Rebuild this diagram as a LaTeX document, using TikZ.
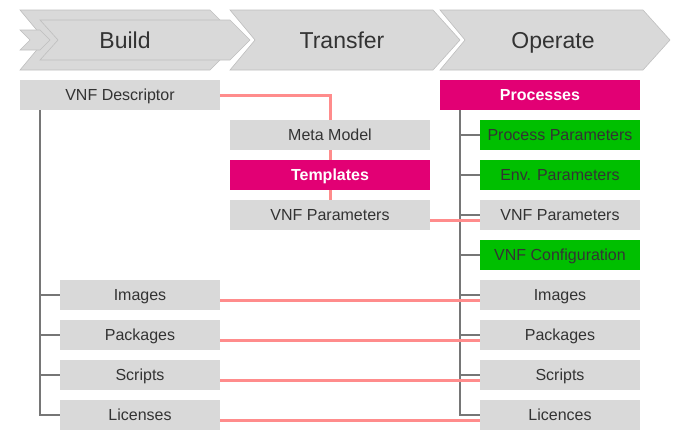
\documentclass[tikz,border=0pt]{standalone}
\usepackage{fontspec}
\setmainfont{Liberation Sans}
\usetikzlibrary{positioning}
\definecolor{boxgray}{HTML}{D9D9D9}
\definecolor{tmagenta}{HTML}{E20074}
\definecolor{okgreen}{HTML}{00BF00}
\definecolor{treegray}{HTML}{767676}
\definecolor{linkred}{HTML}{FF8C8C}
\definecolor{txt}{HTML}{333333}

\begin{document}
\begin{tikzpicture}[x=1pt, y=-1pt,
        every node/.style={font=\fontsize{16}{19}\selectfont, text=txt},
        item/.style={rectangle, fill=boxgray, minimum width=200pt, minimum height=30pt, inner sep=0pt, outer sep=0pt, text height=11.5pt, text depth=0pt},
        sub/.style={item, minimum width=160pt},
        mag/.style={fill=tmagenta, text=white, font=\fontsize{16}{19}\selectfont\bfseries},
        grn/.style={fill=okgreen},
        chev/.style={fill=boxgray, draw=black!25, line width=0.6pt},
        head/.style={font=\fontsize{23}{27}\selectfont, anchor=base},
        tree/.style={draw=treegray, line width=1.8pt},
        link/.style={draw=linkred, line width=3pt}
    ]
        \useasboundingbox (0,0) rectangle (680,440);

        % Phases
        \draw[chev] (20,10) -- (210,10) -- (240,40) -- (210,70) -- (20,70) -- (45,40) -- cycle;
        \draw[chev] (20,30) -- (40,30) -- (50,40) -- (40,50) -- (20,50) -- (30,40) -- cycle;
        \draw[chev] (40,20) -- (230,20) -- (250,40) -- (230,60) -- (40,60) -- (58,40) -- cycle;
        \draw[chev] (230,10) -- (433,10) -- (460,40) -- (433,70) -- (230,70) -- (255,40) -- cycle;
        \draw[chev] (440,10) -- (643,10) -- (670,40) -- (643,70) -- (440,70) -- (465,40) -- cycle;
        \node[head] (build) at (125,48) {Build};
        \node[head] (transfer) at (342,48) {Transfer};
        \node[head] (operate) at (553,48) {Operate};

        % Build
        \node[item] (desc) at (120,95) {VNF Descriptor};
        \node[sub] (bimg) at (140,295) {Images};
        \node[sub, below=10pt of bimg] (bpkg) {Packages};
        \node[sub, below=10pt of bpkg] (bscr) {Scripts};
        \node[sub, below=10pt of bscr] (blic) {Licenses};

        % Transfer
        \node[item] (meta) at (330,135) {Meta Model};
        \node[item, mag, below=10pt of meta] (tmpl) {Templates};
        \node[item, below=10pt of tmpl] (tvnf) {VNF Parameters};

        % Operate
        \node[item, mag] (proc) at (540,95) {Processes};
        \node[sub, grn] (ppar) at (560,135) {Process Parameters};
        \node[sub, grn, below=10pt of ppar] (epar) {Env. Parameters};
        \node[sub, below=10pt of epar] (ovnf) {VNF Parameters};
        \node[sub, grn, below=10pt of ovnf] (ocfg) {VNF Configuration};
        \node[sub, below=10pt of ocfg] (oimg) {Images};
        \node[sub, below=10pt of oimg] (opkg) {Packages};
        \node[sub, below=10pt of opkg] (oscr) {Scripts};
        \node[sub, below=10pt of oscr] (olic) {Licences};

        % Trees
        \foreach \n in {bimg, bpkg, bscr, blic}
            \draw[tree] ([xshift=20pt]desc.south west) |- (\n.west);
        \foreach \n in {ppar, epar, ovnf, ocfg, oimg, opkg, oscr, olic}
            \draw[tree] ([xshift=20pt]proc.south west) |- (\n.west);

        % Links
        \draw[link] (desc.east) -| (meta.north);
        \draw[link] (meta) -- (tmpl);
        \draw[link] (tmpl) -- (tvnf);
        \foreach \a/\b in {tvnf/ovnf, bimg/oimg, bpkg/opkg, bscr/oscr, blic/olic}
            \draw[link] ([yshift=-5pt]\a.east) -- ([yshift=-5pt]\b.west);

    \end{tikzpicture}
\end{document}
